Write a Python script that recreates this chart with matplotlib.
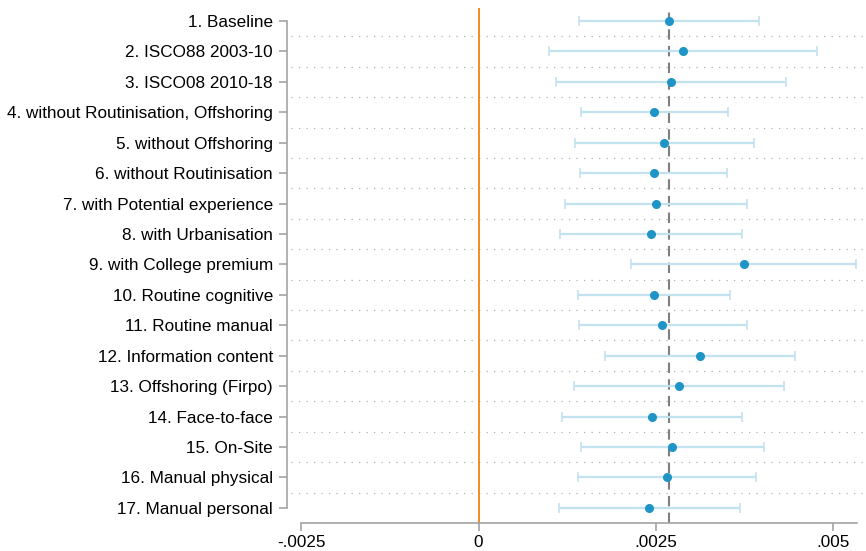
import matplotlib
matplotlib.use("Agg")
import matplotlib.pyplot as plt
import numpy as np

plt.rcParams["font.family"] = ["Liberation Sans", "DejaVu Sans"]

labels = [
    "1. Baseline",
    "2. ISCO88 2003-10",
    "3. ISCO08 2010-18",
    "4. without Routinisation, Offshoring",
    "5. without Offshoring",
    "6. without Routinisation",
    "7. with Potential experience",
    "8. with Urbanisation",
    "9. with College premium",
    "10. Routine cognitive",
    "11. Routine manual",
    "12. Information content",
    "13. Offshoring (Firpo)",
    "14. Face-to-face",
    "15. On-Site",
    "16. Manual physical",
    "17. Manual personal",
]
coef = [0.002679, 0.002880, 0.002707, 0.002472, 0.002617, 0.002468, 0.002500, 0.002434,
        0.003740, 0.002468, 0.002589, 0.003120, 0.002820, 0.002444, 0.002725, 0.002651,
        0.002401]
ci_low = [0.001420, 0.000993, 0.001087, 0.001439, 0.001359, 0.001434, 0.001218, 0.001152,
          0.002152, 0.001406, 0.001416, 0.001782, 0.001345, 0.001180, 0.001439, 0.001401,
          0.001134]
ci_high = [0.003947, 0.004768, 0.004327, 0.003510, 0.003880, 0.003500, 0.003786, 0.003716,
           0.005320, 0.003538, 0.003782, 0.004462, 0.004299, 0.003707, 0.004017, 0.003909,
           0.003683]
baseline = coef[0]
xticks = [-0.0025, 0, 0.0025, 0.005]
xtick_labels = ["-.0025", "0", ".0025", ".005"]

AXIS_GREY = "#a3a3a3"
POINT = "#1f94c6"
CI = "#c3e2ef"
FS = 12.3

fig = plt.figure(figsize=(8.66, 5.51), dpi=100)
ax = fig.add_axes([0.3314, 0.0508, 0.6686, 0.9347])

y = np.arange(1, len(labels) + 1)

# dotted separators between rows
for b in y[:-1] + 0.5:
    ax.axhline(b, xmin=0.007, xmax=1, color="#b0b0b0", linestyle=(0, (1, 5)), linewidth=0.9, zorder=1)

ax.axvline(0, color="#f5891f", linewidth=1.4, zorder=2)
ax.axvline(baseline, color="#7f7f7f", linewidth=1.5, linestyle=(0, (5, 3)), zorder=2)

ax.errorbar(coef, y, xerr=[np.array(coef) - np.array(ci_low), np.array(ci_high) - np.array(coef)],
            fmt="none", ecolor=CI, elinewidth=1.6, capsize=3.5, capthick=1.2, zorder=3)
ax.plot(coef, y, "o", color=POINT, markersize=5.5, zorder=4)

ax.set_xlim(-0.0027, 0.00546)
ax.set_ylim(17.5, 0.57)

ax.set_yticks(y)
ax.set_yticklabels(labels, fontsize=FS)
ax.set_xticks(xticks)
ax.set_xticklabels(xtick_labels, fontsize=FS)

for side in ["top", "right"]:
    ax.spines[side].set_visible(False)
ax.spines["left"].set_bounds(1, len(labels))
ax.spines["bottom"].set_bounds(-0.0025, 0.00533)
for side in ["left", "bottom"]:
    ax.spines[side].set_color(AXIS_GREY)
    ax.spines[side].set_linewidth(1.2)
ax.tick_params(axis="y", length=6, width=1.2, color=AXIS_GREY, pad=4, labelcolor="black")
ax.tick_params(axis="x", length=6, width=1.2, color=AXIS_GREY, pad=2.5, labelcolor="black")

fig.savefig("out.png", dpi=100)
